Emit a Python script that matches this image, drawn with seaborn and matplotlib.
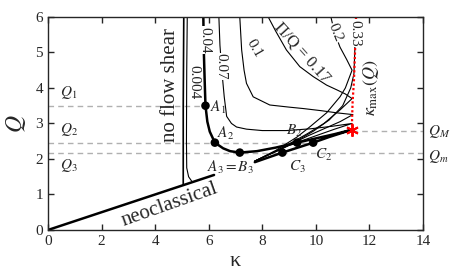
import matplotlib
matplotlib.use('Agg')
import matplotlib.pyplot as plt
import seaborn as sns

# reference levels of Q (dashed lines)
Q1, Q2, Q3, QM = 3.5, 2.46, 2.18, 2.78

# neoclassical line and the no-flow-shear limit
neo_k = [0.0, 6.2]
neo_q = [0.0, 1.55]
noshear_k = [5.05, 5.05, 5.07]
noshear_q = [1.27, 3.5, 6.0]

# Pi/Q = 0.004
c004_k = [5.2, 5.18, 5.17, 5.18, 5.25, 5.38]
c004_q = [6.0, 4.5, 2.5, 1.75, 1.5, 1.36]

# Pi/Q = 0.04 (thick), upper branch then lower branch
c04_k = [5.8, 5.82, 5.85, 5.88, 5.95, 6.04, 6.23, 6.54, 6.8, 7.16, 7.8, 8.5, 9.3, 10.0, 10.7, 11.33,
         10.5, 9.9, 8.75, 7.72]
c04_q = [6.0, 5.0, 4.2, 3.5, 3.05, 2.77, 2.46, 2.3, 2.22, 2.18, 2.22, 2.32, 2.46, 2.58, 2.7, 2.82,
         2.62, 2.46, 2.18, 1.91]

# Pi/Q = 0.07
c07_k = [6.38, 6.42, 6.5, 6.58, 6.67, 6.85, 7.04, 7.41, 8.0, 8.9, 9.8, 10.6, 11.35,
         10.7, 10.1, 9.5, 9.0, 8.4, 7.72]
c07_q = [6.0, 5.2, 4.4, 3.75, 3.2, 3.0, 2.9, 2.84, 2.8, 2.8, 2.85, 2.92, 3.0,
         2.84, 2.68, 2.52, 2.38, 2.18, 1.94]

# Pi/Q = 0.1
c10_k = [7.16, 7.23, 7.32, 7.41, 7.66, 8.28, 9.0, 9.53, 10.2, 10.77, 11.38,
         10.9, 10.3, 9.7, 9.3, 8.5, 7.72]
c10_q = [6.0, 5.07, 4.5, 4.13, 3.75, 3.52, 3.46, 3.42, 3.36, 3.3, 3.25,
         3.05, 2.85, 2.65, 2.5, 2.21, 1.94]

# Pi/Q = 0.17
c17_k = [8.22, 8.5, 8.9, 9.4, 9.9, 10.4, 10.8, 11.1, 11.35,
         10.9, 10.3, 9.7, 9.3, 8.5, 7.72]
c17_q = [6.0, 5.6, 5.07, 4.6, 4.32, 4.08, 3.94, 3.83, 3.7,
         3.38, 3.0, 2.72, 2.55, 2.22, 1.94]

# Pi/Q = 0.2
c20_k = [10.56, 10.7, 10.9, 11.15, 11.35,
         11.1, 10.9, 10.4, 9.8, 9.3, 8.5, 7.72]
c20_q = [6.0, 5.55, 5.15, 4.8, 4.5,
         4.0, 3.75, 3.3, 2.92, 2.62, 2.24, 1.94]

# Pi/Q = 0.33
c33_k = [11.48, 11.45, 11.42, 11.3, 11.0, 10.5, 9.9, 9.4, 8.6, 7.72]
c33_q = [6.0, 5.0, 4.4, 4.0, 3.5, 3.1, 2.78, 2.56, 2.24, 1.94]

# kappa_max(Q)
kmax_k = [11.5, 11.46, 11.42, 11.37, 11.35, 11.35]
kmax_q = [6.0, 5.0, 4.2, 3.6, 3.1, 2.82]
star_k, star_q = 11.35, 2.82

# marked states
pt_names = ['A1', 'A2', 'A3', 'B2', 'C2', 'C3']
pt_k = [5.88, 6.23, 7.16, 9.3, 9.9, 8.75]
pt_q = [Q1, Q2, Q3, Q2, Q2, Q3]

sns.set_style('ticks')
plt.rcParams['font.family'] = ['Liberation Serif', 'DejaVu Serif']
plt.rcParams['mathtext.fontset'] = 'stix'

fig = plt.figure(figsize=(4.52, 2.73), dpi=100)
ax = fig.add_axes([0.106, 0.1575, 0.83, 0.7805])

gray = '#b0b0b0'
ax.plot([0, 5.75], [Q1, Q1], ls='--', color=gray, lw=1.0, dashes=(4, 3))
ax.plot([0, 9.9], [Q2, Q2], ls='--', color=gray, lw=1.0, dashes=(4, 3))
ax.plot([0, 14], [Q3, Q3], ls='--', color=gray, lw=1.0, dashes=(4, 3))
ax.plot([star_k, 14], [QM, QM], ls='--', color=gray, lw=1.0, dashes=(4, 3))

sns.lineplot(x=neo_k, y=neo_q, sort=False, estimator=None, color='k', lw=1.8, ax=ax)
sns.lineplot(x=noshear_k, y=noshear_q, sort=False, estimator=None, color='k', lw=1.2, ax=ax)
sns.lineplot(x=c004_k, y=c004_q, sort=False, estimator=None, color='k', lw=0.8, ax=ax)
for ck, cq in [(c07_k, c07_q), (c10_k, c10_q), (c17_k, c17_q), (c20_k, c20_q), (c33_k, c33_q)]:
    sns.lineplot(x=ck, y=cq, sort=False, estimator=None, color='k', lw=0.8, ax=ax)
sns.lineplot(x=c04_k, y=c04_q, sort=False, estimator=None, color='k', lw=1.8, ax=ax)
sns.lineplot(x=kmax_k, y=kmax_q, sort=False, estimator=None, color='red', lw=1.6,
             ls=(0, (1, 1)), ax=ax)
ax.plot(star_k, star_q, marker=(6, 2, 0), color='red', ms=9, mew=1.4)
sns.scatterplot(x=pt_k, y=pt_q, color='k', s=38, edgecolor='none', ax=ax, zorder=5)

ax.set_xlim(0, 14)
ax.set_ylim(0, 6)
ax.set_xticks(range(0, 15, 2))
ax.set_yticks(range(0, 7))
ax.tick_params(direction='in', top=True, right=True, labelsize=11, length=4, width=1)
for s in ax.spines.values():
    s.set_linewidth(1.0)
ax.set_xlabel('κ', fontsize=16, labelpad=3)
ax.set_ylabel(r'$Q$', fontsize=17, labelpad=5)

fs = 11
ax.text(4.55, 0.72, 'neoclassical', fontsize=15, rotation=19.5, ha='center', va='center')
ax.text(4.57, 4.07, 'no flow shear', fontsize=15, rotation=90, ha='center', va='center')

wb = dict(facecolor='white', edgecolor='none', pad=0.3)
ax.text(5.43, 4.17, '0.004', fontsize=fs, rotation=-90, ha='center', va='center')
ax.text(5.84, 5.35, '0.04', fontsize=fs, rotation=-90, ha='center', va='center', bbox=wb)
ax.text(6.45, 4.6, '0.07', fontsize=fs, rotation=-90, ha='center', va='center', bbox=wb)
ax.text(7.7, 5.1, '0.1', fontsize=fs, rotation=-60, ha='center', va='center')
ax.text(9.5, 5.0, 'Π/Q = 0.17', fontsize=12, rotation=-48, ha='center', va='center')
ax.text(10.72, 5.55, '0.2', fontsize=fs, rotation=-68, ha='center', va='center', bbox=wb)
ax.text(11.45, 5.55, '0.33', fontsize=fs, rotation=-90, ha='center', va='center', bbox=wb)
ax.text(12.05, 4.0, r'$\kappa_{\rm max}(Q)$', fontsize=13, rotation=90, ha='center', va='center')

ax.text(0.45, 3.62, r'$Q_1$', fontsize=fs, va='bottom')
ax.text(0.45, 2.58, r'$Q_2$', fontsize=fs, va='bottom')
ax.text(0.45, 2.06, r'$Q_3$', fontsize=fs, va='top')
ax.text(14.2, 2.76, r'$Q_M$', fontsize=fs, va='center', clip_on=False)
ax.text(14.2, 2.08, r'$Q_m$', fontsize=fs, va='center', clip_on=False)

ax.text(6.05, 3.45, r'$A_1$', fontsize=fs, va='center')
ax.text(6.3, 2.73, r'$A_2$', fontsize=fs, va='center')
ax.text(6.8, 1.75, r'$A_3 = B_3$', fontsize=fs, ha='center', va='center')
ax.text(9.2, 2.8, r'$B_2$', fontsize=fs, ha='center', va='center')
ax.text(10.3, 2.1, r'$C_2$', fontsize=fs, ha='center', va='center')
ax.text(9.3, 1.77, r'$C_3$', fontsize=fs, ha='center', va='center')

fig.savefig('out.png', dpi=100)
